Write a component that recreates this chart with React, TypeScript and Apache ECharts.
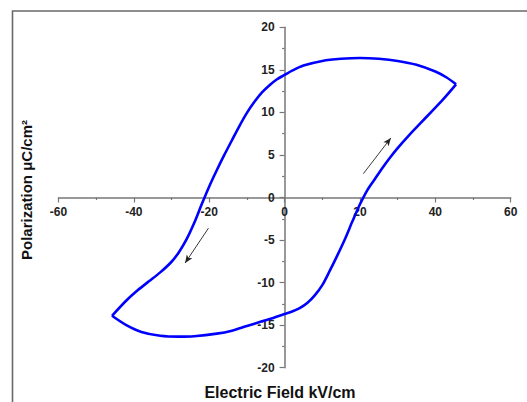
import React, { useEffect, useRef } from "react";
import * as echarts from "echarts";

// Upper branch (descending field, from right tip to left tip)
const upperX = [45.5, 43, 40, 35, 30, 25, 20, 15, 10, 5, 2, 0, -2, -4, -6, -8, -10, -12, -14, -16, -18, -20, -22, -24, -26, -28, -30, -33, -36, -39, -42, -45.8];
const upperY = [13.3, 14.1, 14.8, 15.6, 16.05, 16.3, 16.4, 16.3, 16.05, 15.5, 14.9, 14.4, 13.9, 13.2, 12.35, 11.25, 9.95, 8.4, 6.7, 5.0, 3.2, 1.3, -0.8, -3.0, -4.9, -6.4, -7.55, -8.8, -9.85, -10.9, -12.1, -13.9];

// Lower branch (ascending field, from left tip to right tip)
const lowerX = [-45.8, -42, -38, -33, -28, -24, -18, -14, -10, -6, -3, 0, 2, 4, 6, 8, 10, 12, 14, 16, 18, 20, 22, 24, 26, 28, 30, 33, 36, 39, 42, 45.5];
const lowerY = [-13.9, -15.0, -15.8, -16.25, -16.35, -16.3, -16.0, -15.65, -15.1, -14.55, -14.15, -13.7, -13.4, -13.0, -12.4, -11.5, -10.3, -8.6, -6.8, -4.9, -2.8, -0.8, 0.9, 2.2, 3.5, 4.7, 5.8, 7.3, 8.7, 10.1, 11.5, 13.3];

// Direction arrows [fromX, fromY, toX, toY]
const arrowUp = [20.9, 2.8, 28.2, 7.0];
const arrowDown = [-20.2, -3.6, -26.4, -7.7];

const xTitle = "Electric Field kV/cm";
const yTitle = "Polarization \u03bcC/cm\u00b2";

const FONT = "'Liberation Sans', Arial, sans-serif";

const GRID = { left: 58.5, right: 16.3, top: 27.3, bottom: 34.3 };
const W = 527;
const H = 402;

export default function App() {
  const ref = useRef<HTMLDivElement>(null);
  useEffect(() => {
    if (!ref.current) return;
    const chart = echarts.init(ref.current, undefined, { renderer: "svg" });
    const upper = upperX.map((x, i) => [x, upperY[i]]);
    const lower = lowerX.map((x, i) => [x, lowerY[i]]);
    // place axes through the origin (value 0 of the other axis)
    const plotW = W - GRID.left - GRID.right;
    const plotH = H - GRID.top - GRID.bottom;
    const xOffset = -plotH / 2; // x axis at y = 0 (range -20..20)
    const yOffset = -plotW / 2; // y axis at x = 0 (range -60..60)
    const axisLine = { onZero: false, lineStyle: { color: "#777", width: 1.5 } };
    const axisTick = { length: 5, lineStyle: { color: "#777", width: 1.2 } };
    const minorTick = { show: true, splitNumber: 2, length: 2.5, lineStyle: { color: "#777", width: 1.2 } };
    const axisLabel = { color: "#222", fontWeight: "bold" as const, fontSize: 12, fontFamily: FONT };
    chart.setOption({
      animation: false,
      grid: GRID,
      xAxis: {
        type: "value",
        position: "bottom",
        offset: xOffset,
        min: -60,
        max: 60,
        interval: 20,
        axisLine,
        axisTick,
        minorTick,
        splitLine: { show: false },
        minorSplitLine: { show: false },
        axisLabel: { ...axisLabel, margin: 8 },
      },
      yAxis: {
        type: "value",
        position: "left",
        offset: yOffset,
        min: -20,
        max: 20,
        interval: 5,
        axisLine,
        axisTick,
        minorTick,
        splitLine: { show: false },
        minorSplitLine: { show: false },
        axisLabel: { ...axisLabel, margin: 10 },
      },
      series: [
        {
          type: "line",
          data: upper,
          smooth: 0.3,
          symbol: "none",
          lineStyle: { color: "#0000ff", width: 2.6 },
          itemStyle: { color: "#0000ff" },
          silent: true,
          z: 5,
          markLine: {
            silent: true,
            symbol: ["none", "arrow"],
            symbolSize: [5, 8],
            label: { show: false },
            lineStyle: { color: "#222", width: 0.9, type: "solid" },
            data: [
              [{ coord: [arrowUp[0], arrowUp[1]] }, { coord: [arrowUp[2], arrowUp[3]] }],
              [{ coord: [arrowDown[0], arrowDown[1]] }, { coord: [arrowDown[2], arrowDown[3]] }],
            ],
          },
        },
        {
          type: "line",
          data: lower,
          smooth: 0.3,
          symbol: "none",
          lineStyle: { color: "#0000ff", width: 2.6 },
          itemStyle: { color: "#0000ff" },
          silent: true,
          z: 5,
        },
      ],
      graphic: [
        {
          type: "polyline",
          shape: { points: [[12.5, 402], [12.5, 11], [527, 11]] },
          style: { stroke: "#6a6a6a", lineWidth: 1.6, fill: "none" },
          silent: true,
        },
        {
          type: "text",
          x: 280,
          y: 392,
          style: {
            text: xTitle,
            fill: "#111",
            font: `bold 16px ${FONT}`,
            align: "center",
            verticalAlign: "middle",
          },
        },
        {
          type: "text",
          x: 26.5,
          y: 190,
          rotation: Math.PI / 2,
          style: {
            text: yTitle,
            fill: "#111",
            font: `bold 15px ${FONT}`,
            align: "center",
            verticalAlign: "middle",
          },
        },
      ],
    });
    return () => chart.dispose();
  }, []);
  return (
    <div
      ref={ref}
      style={{ position: "fixed", left: 0, top: 0, width: W, height: H, background: "#fff" }}
    />
  );
}
